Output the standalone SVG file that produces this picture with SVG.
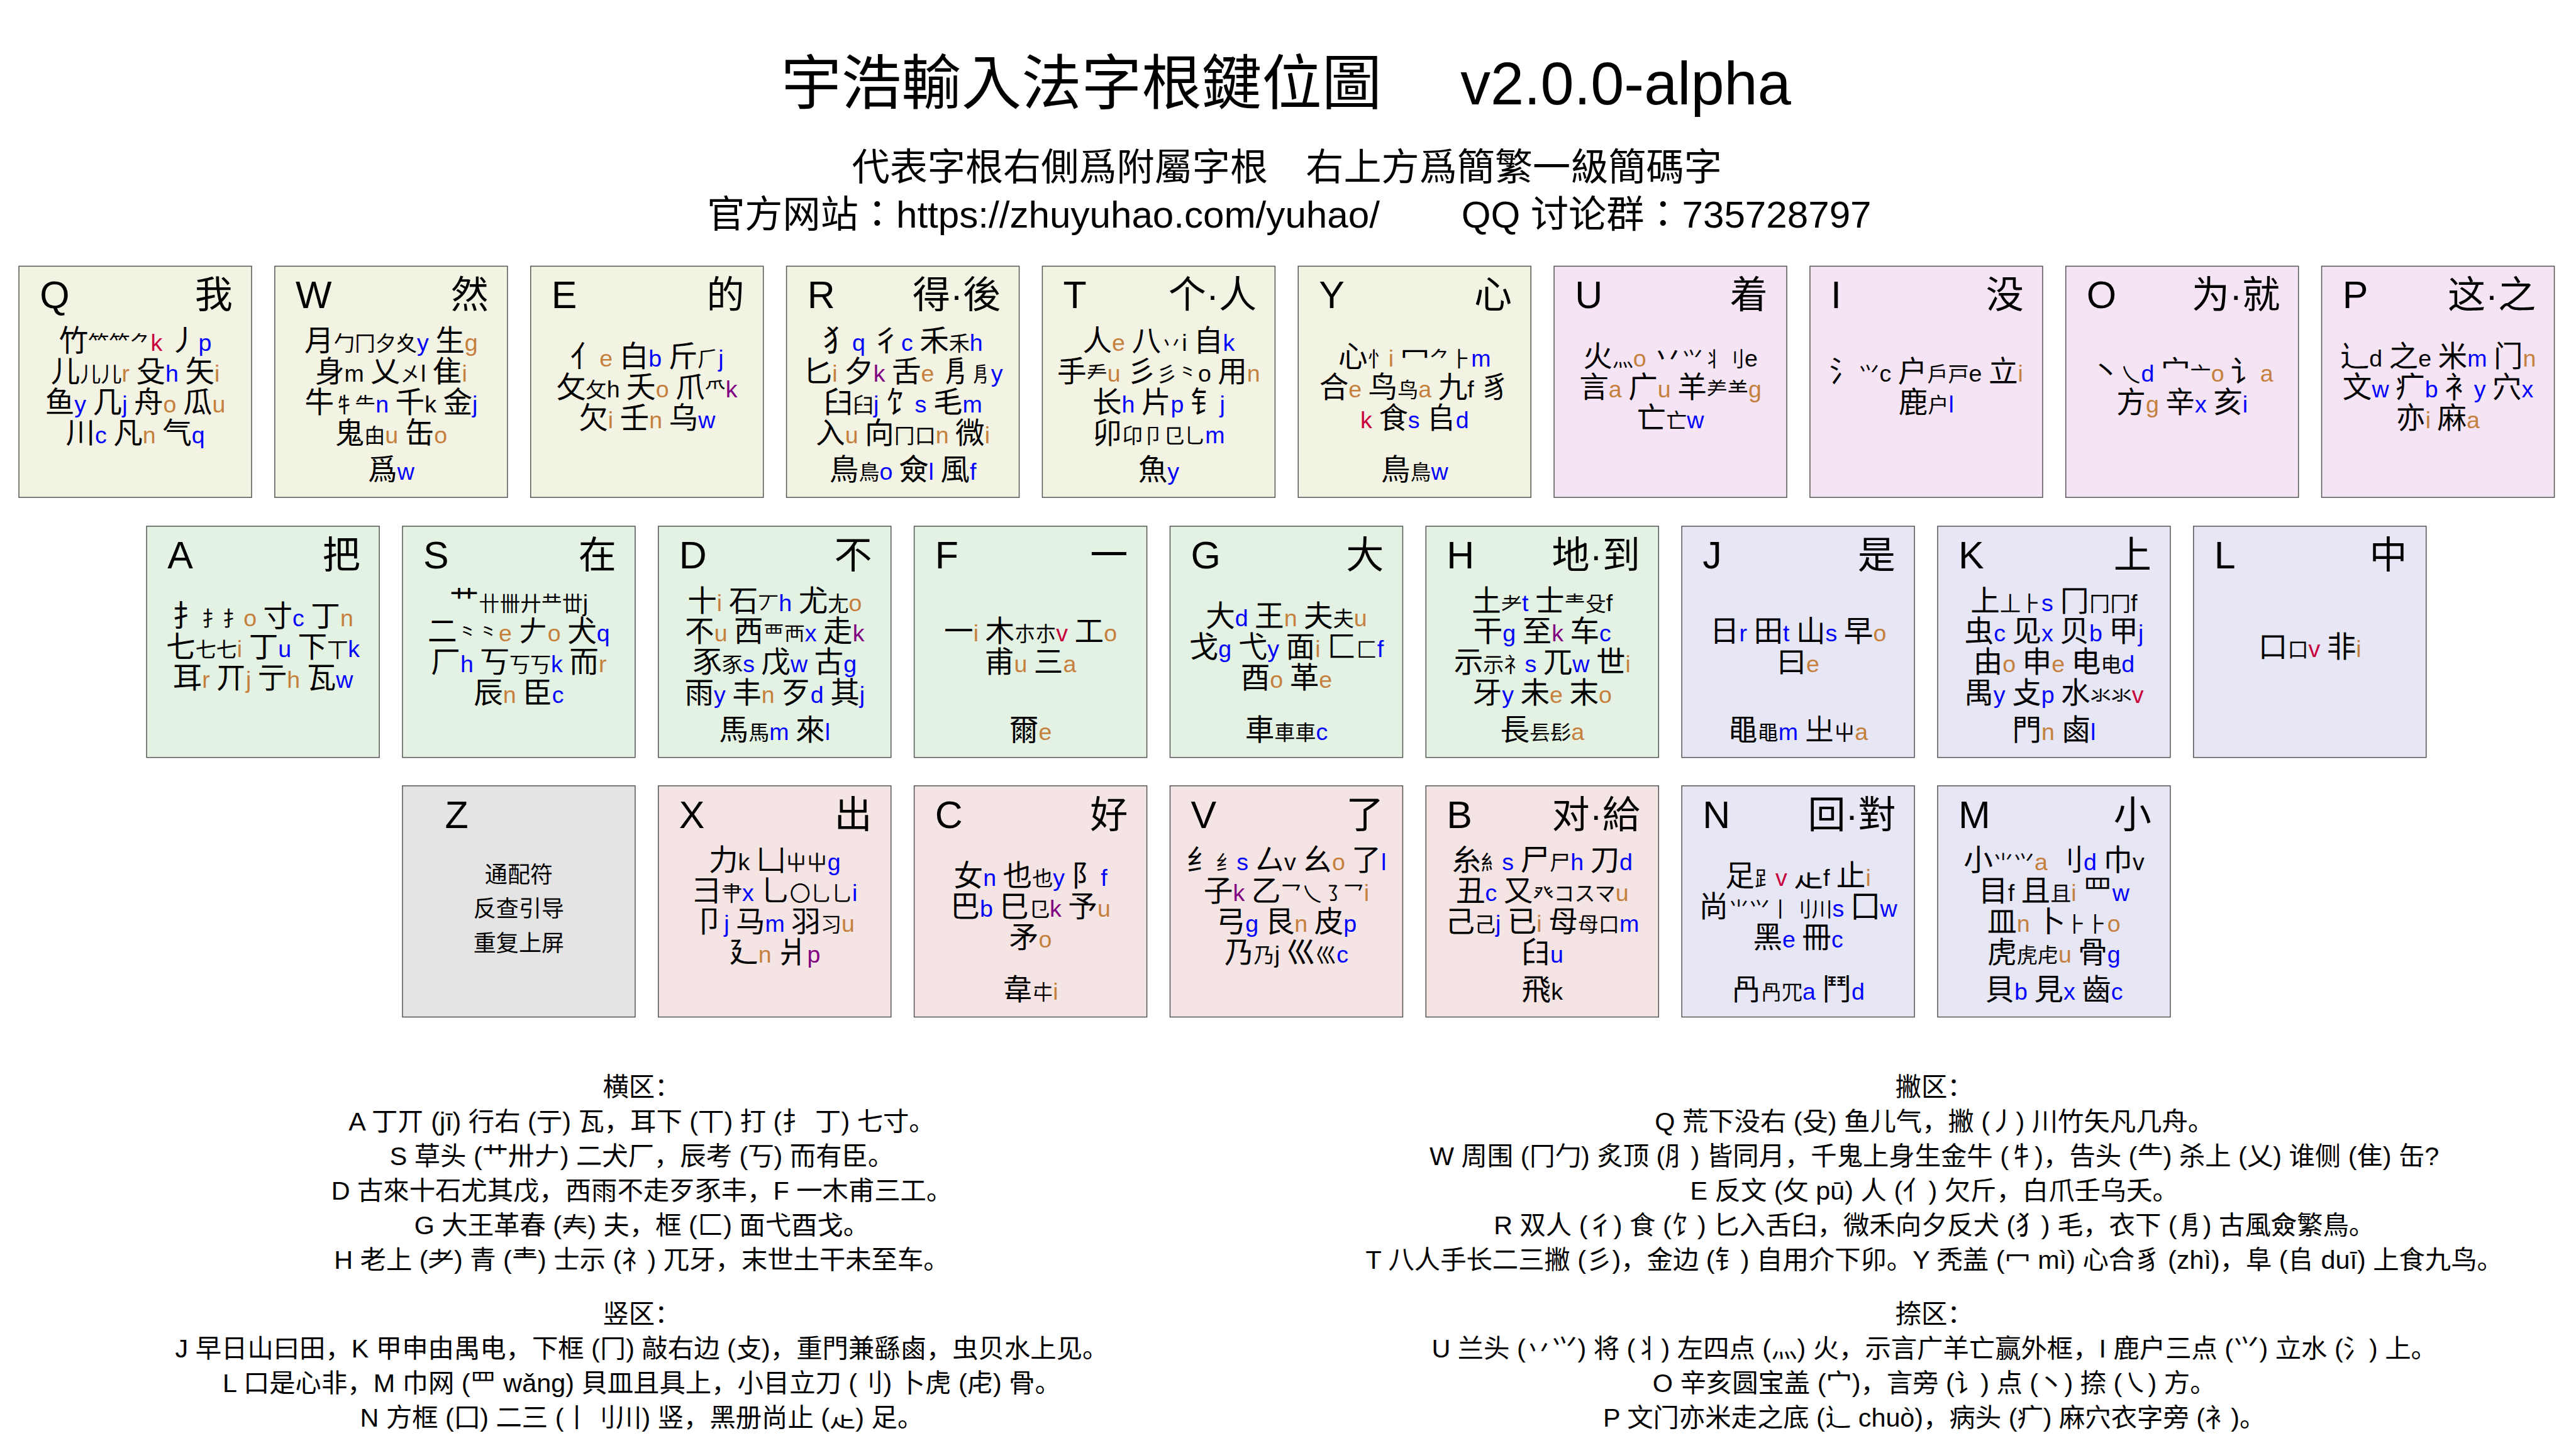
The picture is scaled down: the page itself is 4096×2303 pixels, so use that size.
<svg xmlns="http://www.w3.org/2000/svg" width="4096" height="2303" viewBox="0 0 4096 2303" xml:space="preserve">
<style>
.kb{stroke:#555;stroke-width:2}
.y1{fill:#f3f3e4}.p1{fill:#f4e4f4}.g1{fill:#e4f2e4}.v1{fill:#e6e6f4}.z1{fill:#e4e4e4}.r1{fill:#f4e4e4}
.hl{font-family:"Liberation Sans",Arial,sans-serif;font-size:81px;fill:#000}
.hr{font-family:"Liberation Sans","Noto Sans CJK SC","Noto Sans CJK TC","Noto Sans CJK JP",sans-serif;font-size:80px;text-anchor:end;fill:#000}
.ln{font-family:"Noto Sans CJK SC","Noto Sans CJK TC","Noto Sans CJK JP","Noto Sans CJK KR",sans-serif;font-size:62px;text-anchor:middle;fill:#000}
.s{font-size:44px}
.c{font-family:"Liberation Sans",Arial,sans-serif;font-size:50px}
.B{fill:#0000ff}.O{fill:#c4803c}.R{fill:#c8003c}.P{fill:#800080}
.zt{font-size:48px}
.tt{font-family:"Liberation Sans","Noto Sans CJK TC","Noto Sans CJK SC",sans-serif;font-size:127px;fill:#000}
.st{font-family:"Liberation Sans","Noto Sans CJK TC","Noto Sans CJK SC",sans-serif;font-size:80px;fill:#000}
.ft{font-family:"Liberation Sans","Noto Sans CJK SC","Noto Sans CJK TC","Noto Sans CJK JP",sans-serif;font-size:55px;text-anchor:middle;fill:#000}
</style>
<rect width="4096" height="2303" fill="#fff"/>
<g transform="scale(0.752)">
<g id="title">
<text class="tt" x="1652" y="221">宇浩輸入法字根鍵位圖<tspan x="3088">v2.0.0-alpha</tspan></text>
<text class="st" x="2721" y="381" text-anchor="middle">代表字根右側爲附屬字根　右上方爲簡繁一級簡碼字</text>
<text class="st" x="1495" y="481">官方网站：https://zhuyuhao.com/yuhao/<tspan x="3090">QQ 讨论群：735728797</tspan></text>
</g>
<g id="keys">
<g id="key-Q" transform="translate(40,563)"><rect class="kb y1" width="492" height="489"/><text class="hl" x="44" y="89">Q</text><text class="hr" x="452" y="89">我</text>
<text class="ln" x="246" y="179">竹<tspan class="s">⺮⺮⺈</tspan><tspan class="c R">k </tspan>丿<tspan class="c B">p</tspan></text>
<text class="ln" x="246" y="244">儿<tspan class="s">儿儿</tspan><tspan class="c O">r </tspan>殳<tspan class="c B">h </tspan>矢<tspan class="c O">i</tspan></text>
<text class="ln" x="246" y="309">鱼<tspan class="c B">y </tspan>几<tspan class="c B">j </tspan>舟<tspan class="c O">o </tspan>瓜<tspan class="c O">u</tspan></text>
<text class="ln" x="246" y="374">川<tspan class="c B">c </tspan>凡<tspan class="c O">n </tspan>气<tspan class="c B">q</tspan></text></g>
<g id="key-W" transform="translate(581,563)"><rect class="kb y1" width="492" height="489"/><text class="hl" x="44" y="89">W</text><text class="hr" x="452" y="89">然</text>
<text class="ln" x="246" y="179">月<tspan class="s">勹冂夕夊</tspan><tspan class="c B">y </tspan>生<tspan class="c O">g</tspan></text>
<text class="ln" x="246" y="244">身<tspan class="c">m </tspan>乂<tspan class="s">㐅</tspan><tspan class="c">l </tspan>隹<tspan class="c O">i</tspan></text>
<text class="ln" x="246" y="309">牛<tspan class="s">牜⺧</tspan><tspan class="c B">n </tspan>千<tspan class="c">k </tspan>金<tspan class="c B">j</tspan></text>
<text class="ln" x="246" y="374">鬼<tspan class="s">甶</tspan><tspan class="c O">u </tspan>缶<tspan class="c O">o</tspan></text>
<text class="ln" x="246" y="452">爲<tspan class="c B">w</tspan></text></g>
<g id="key-E" transform="translate(1122,563)"><rect class="kb y1" width="492" height="489"/><text class="hl" x="44" y="89">E</text><text class="hr" x="452" y="89">的</text>
<text class="ln" x="246" y="212">亻<tspan class="c O">e </tspan>白<tspan class="c B">b </tspan>斤<tspan class="s">⺁</tspan><tspan class="c B">j</tspan></text>
<text class="ln" x="246" y="277">攵<tspan class="s">⺙</tspan><tspan class="c">h </tspan>夭<tspan class="c O">o </tspan>爪<tspan class="s">⺥</tspan><tspan class="c P">k</tspan></text>
<text class="ln" x="246" y="342">欠<tspan class="c O">i </tspan>壬<tspan class="c O">n </tspan>乌<tspan class="c B">w</tspan></text></g>
<g id="key-R" transform="translate(1663,563)"><rect class="kb y1" width="492" height="489"/><text class="hl" x="44" y="89">R</text><text class="hr" x="453" y="89">得·後</text>
<text class="ln" x="246" y="179">犭<tspan class="c B">q </tspan>彳<tspan class="c B">c </tspan>禾<tspan class="s">禾</tspan><tspan class="c B">h</tspan></text>
<text class="ln" x="246" y="244">匕<tspan class="c O">i </tspan>夕<tspan class="c P">k </tspan>舌<tspan class="c O">e </tspan>㐆<tspan class="s">㐆</tspan><tspan class="c B">y</tspan></text>
<text class="ln" x="246" y="309">臼<tspan class="s">臼</tspan><tspan class="c B">j </tspan>饣<tspan class="c B">s </tspan>毛<tspan class="c B">m</tspan></text>
<text class="ln" x="246" y="374">入<tspan class="c O">u </tspan>向<tspan class="s">冂口</tspan><tspan class="c O">n </tspan>微<tspan class="c O">i</tspan></text>
<text class="ln" x="246" y="452">鳥<tspan class="s">鳥</tspan><tspan class="c B">o </tspan>僉<tspan class="c B">l </tspan>風<tspan class="c B">f</tspan></text></g>
<g id="key-T" transform="translate(2204,563)"><rect class="kb y1" width="492" height="489"/><text class="hl" x="44" y="89">T</text><text class="hr" x="453" y="89">个·人</text>
<text class="ln" x="246" y="179">人<tspan class="c O">e </tspan>八<tspan class="s">丷</tspan><tspan class="c">i </tspan>自<tspan class="c B">k</tspan></text>
<text class="ln" x="246" y="244">手<tspan class="s">龵</tspan><tspan class="c O">u </tspan>彡<tspan class="s">彡⺀</tspan><tspan class="c">o </tspan>用<tspan class="c O">n</tspan></text>
<text class="ln" x="246" y="309">长<tspan class="c B">h </tspan>片<tspan class="c B">p </tspan>钅<tspan class="c B">j</tspan></text>
<text class="ln" x="246" y="374">卯<tspan class="s">卬卩⺋乚</tspan><tspan class="c B">m</tspan></text>
<text class="ln" x="246" y="452">魚<tspan class="c B">y</tspan></text></g>
<g id="key-Y" transform="translate(2745,563)"><rect class="kb y1" width="492" height="489"/><text class="hl" x="44" y="89">Y</text><text class="hr" x="452" y="89">心</text>
<text class="ln" x="246" y="212">心<tspan class="s">⺖</tspan><tspan class="c O">i </tspan>冖<tspan class="s">⺈⺊</tspan><tspan class="c B">m</tspan></text>
<text class="ln" x="246" y="277">合<tspan class="c O">e </tspan>鸟<tspan class="s">鸟</tspan><tspan class="c O">a </tspan>九<tspan class="c">f </tspan>豸</text>
<text class="ln" x="246" y="342"><tspan class="c R">k </tspan>食<tspan class="c B">s </tspan>𠂤<tspan class="c B">d</tspan></text>
<text class="ln" x="246" y="452">鳥<tspan class="s">鳥</tspan><tspan class="c B">w</tspan></text></g>
<g id="key-U" transform="translate(3286,563)"><rect class="kb p1" width="492" height="489"/><text class="hl" x="44" y="89">U</text><text class="hr" x="452" y="89">着</text>
<text class="ln" x="246" y="212">火<tspan class="s">灬</tspan><tspan class="c O">o </tspan>丷<tspan class="s">⺍丬刂</tspan><tspan class="c">e</tspan></text>
<text class="ln" x="246" y="277">言<tspan class="c O">a </tspan>广<tspan class="c O">u </tspan>羊<tspan class="s">⺶⺷</tspan><tspan class="c O">g</tspan></text>
<text class="ln" x="246" y="342">亡<tspan class="s">亡</tspan><tspan class="c B">w</tspan></text></g>
<g id="key-I" transform="translate(3827,563)"><rect class="kb p1" width="492" height="489"/><text class="hl" x="44" y="89">I</text><text class="hr" x="452" y="89">没</text>
<text class="ln" x="246" y="244">氵<tspan class="s">⺍</tspan><tspan class="c">c </tspan>户<tspan class="s">戶戸</tspan><tspan class="c">e </tspan>立<tspan class="c O">i</tspan></text>
<text class="ln" x="246" y="309">鹿<tspan class="s">户</tspan><tspan class="c B">l</tspan></text></g>
<g id="key-O" transform="translate(4368,563)"><rect class="kb p1" width="492" height="489"/><text class="hl" x="44" y="89">O</text><text class="hr" x="453" y="89">为·就</text>
<text class="ln" x="246" y="244">丶<tspan class="s">乀</tspan><tspan class="c B">d </tspan>宀<tspan class="s">亠</tspan><tspan class="c O">o </tspan>讠<tspan class="c O">a</tspan></text>
<text class="ln" x="246" y="309">方<tspan class="c O">g </tspan>辛<tspan class="c B">x </tspan>亥<tspan class="c B">i</tspan></text></g>
<g id="key-P" transform="translate(4909,563)"><rect class="kb p1" width="492" height="489"/><text class="hl" x="44" y="89">P</text><text class="hr" x="453" y="89">这·之</text>
<text class="ln" x="246" y="212">辶<tspan class="c">d </tspan>之<tspan class="c">e </tspan>米<tspan class="c B">m </tspan>门<tspan class="c O">n</tspan></text>
<text class="ln" x="246" y="277">文<tspan class="c B">w </tspan>疒<tspan class="c B">b </tspan>衤<tspan class="c B">y </tspan>穴<tspan class="c B">x</tspan></text>
<text class="ln" x="246" y="342">亦<tspan class="c O">i </tspan>麻<tspan class="c O">a</tspan></text></g>
<g id="key-A" transform="translate(310,1113)"><rect class="kb g1" width="492" height="489"/><text class="hl" x="44" y="89">A</text><text class="hr" x="452" y="89">把</text>
<text class="ln" x="246" y="212">扌<tspan class="s">扌扌</tspan><tspan class="c O">o </tspan>寸<tspan class="c B">c </tspan>丁<tspan class="c O">n</tspan></text>
<text class="ln" x="246" y="277">七<tspan class="s">七七</tspan><tspan class="c O">i </tspan>丁<tspan class="c B">u </tspan>下<tspan class="s">丅</tspan><tspan class="c B">k</tspan></text>
<text class="ln" x="246" y="342">耳<tspan class="c O">r </tspan>丌<tspan class="c O">j </tspan>亍<tspan class="c O">h </tspan>瓦<tspan class="c B">w</tspan></text></g>
<g id="key-S" transform="translate(851,1113)"><rect class="kb g1" width="492" height="489"/><text class="hl" x="44" y="89">S</text><text class="hr" x="452" y="89">在</text>
<text class="ln" x="246" y="179">艹<tspan class="s">卄卌廾龷丗</tspan><tspan class="c">j</tspan></text>
<text class="ln" x="246" y="244">二<tspan class="s">⺀⺀</tspan><tspan class="c O">e </tspan>𠂇<tspan class="c O">o </tspan>犬<tspan class="c B">q</tspan></text>
<text class="ln" x="246" y="309">厂<tspan class="c B">h </tspan>丂<tspan class="s">丂丂</tspan><tspan class="c B">k </tspan>而<tspan class="c O">r</tspan></text>
<text class="ln" x="246" y="374">辰<tspan class="c O">n </tspan>臣<tspan class="c B">c</tspan></text></g>
<g id="key-D" transform="translate(1392,1113)"><rect class="kb g1" width="492" height="489"/><text class="hl" x="44" y="89">D</text><text class="hr" x="452" y="89">不</text>
<text class="ln" x="246" y="179">十<tspan class="c O">i </tspan>石<tspan class="s">丆</tspan><tspan class="c B">h </tspan>尤<tspan class="s">尢</tspan><tspan class="c O">o</tspan></text>
<text class="ln" x="246" y="244">不<tspan class="c O">u </tspan>西<tspan class="s">覀襾</tspan><tspan class="c B">x </tspan>走<tspan class="c P">k</tspan></text>
<text class="ln" x="246" y="309">豕<tspan class="s">豕</tspan><tspan class="c B">s </tspan>戊<tspan class="c B">w </tspan>古<tspan class="c B">g</tspan></text>
<text class="ln" x="246" y="374">雨<tspan class="c B">y </tspan>丰<tspan class="c O">n </tspan>歹<tspan class="c B">d </tspan>其<tspan class="c B">j</tspan></text>
<text class="ln" x="246" y="452">馬<tspan class="s">馬</tspan><tspan class="c B">m </tspan>來<tspan class="c B">l</tspan></text></g>
<g id="key-F" transform="translate(1933,1113)"><rect class="kb g1" width="492" height="489"/><text class="hl" x="44" y="89">F</text><text class="hr" x="452" y="89">一</text>
<text class="ln" x="246" y="244">一<tspan class="c O">i </tspan>木<tspan class="s">朩朩</tspan><tspan class="c R">v </tspan>工<tspan class="c O">o</tspan></text>
<text class="ln" x="246" y="309">甫<tspan class="c O">u </tspan>三<tspan class="c O">a</tspan></text>
<text class="ln" x="246" y="452">爾<tspan class="c O">e</tspan></text></g>
<g id="key-G" transform="translate(2474,1113)"><rect class="kb g1" width="492" height="489"/><text class="hl" x="44" y="89">G</text><text class="hr" x="452" y="89">大</text>
<text class="ln" x="246" y="212">大<tspan class="c B">d </tspan>王<tspan class="c O">n </tspan>夫<tspan class="s">夫</tspan><tspan class="c O">u</tspan></text>
<text class="ln" x="246" y="277">戈<tspan class="c B">g </tspan>弋<tspan class="c B">y </tspan>面<tspan class="c O">i </tspan>匚<tspan class="s">匚</tspan><tspan class="c B">f</tspan></text>
<text class="ln" x="246" y="342">酉<tspan class="c O">o </tspan>革<tspan class="c O">e</tspan></text>
<text class="ln" x="246" y="452">車<tspan class="s">車車</tspan><tspan class="c B">c</tspan></text></g>
<g id="key-H" transform="translate(3015,1113)"><rect class="kb g1" width="492" height="489"/><text class="hl" x="44" y="89">H</text><text class="hr" x="453" y="89">地·到</text>
<text class="ln" x="246" y="179">土<tspan class="s">耂</tspan><tspan class="c B">t </tspan>士<tspan class="s">龶殳</tspan><tspan class="c">f</tspan></text>
<text class="ln" x="246" y="244">干<tspan class="c B">g </tspan>至<tspan class="c P">k </tspan>车<tspan class="c B">c</tspan></text>
<text class="ln" x="246" y="309">示<tspan class="s">示礻</tspan><tspan class="c B">s </tspan>兀<tspan class="c B">w </tspan>世<tspan class="c O">i</tspan></text>
<text class="ln" x="246" y="374">牙<tspan class="c B">y </tspan>未<tspan class="c O">e </tspan>末<tspan class="c O">o</tspan></text>
<text class="ln" x="246" y="452">長<tspan class="s">镸髟</tspan><tspan class="c O">a</tspan></text></g>
<g id="key-J" transform="translate(3556,1113)"><rect class="kb v1" width="492" height="489"/><text class="hl" x="44" y="89">J</text><text class="hr" x="452" y="89">是</text>
<text class="ln" x="246" y="244">日<tspan class="c B">r </tspan>田<tspan class="c B">t </tspan>山<tspan class="c B">s </tspan>早<tspan class="c O">o</tspan></text>
<text class="ln" x="246" y="309">曰<tspan class="c O">e</tspan></text>
<text class="ln" x="246" y="452">黽<tspan class="s">黽</tspan><tspan class="c B">m </tspan>㞢<tspan class="s">屮</tspan><tspan class="c O">a</tspan></text></g>
<g id="key-K" transform="translate(4097,1113)"><rect class="kb v1" width="492" height="489"/><text class="hl" x="44" y="89">K</text><text class="hr" x="452" y="89">上</text>
<text class="ln" x="246" y="179">上<tspan class="s">丄⺊</tspan><tspan class="c B">s </tspan>冂<tspan class="s">冂冂</tspan><tspan class="c">f</tspan></text>
<text class="ln" x="246" y="244">虫<tspan class="c B">c </tspan>见<tspan class="c B">x </tspan>贝<tspan class="c B">b </tspan>甲<tspan class="c B">j</tspan></text>
<text class="ln" x="246" y="309">由<tspan class="c O">o </tspan>申<tspan class="c O">e </tspan>电<tspan class="s">电</tspan><tspan class="c B">d</tspan></text>
<text class="ln" x="246" y="374">禺<tspan class="c B">y </tspan>攴<tspan class="c B">p </tspan>水<tspan class="s">氺氺</tspan><tspan class="c R">v</tspan></text>
<text class="ln" x="246" y="452">門<tspan class="c O">n </tspan>鹵<tspan class="c B">l</tspan></text></g>
<g id="key-L" transform="translate(4638,1113)"><rect class="kb v1" width="492" height="489"/><text class="hl" x="44" y="89">L</text><text class="hr" x="452" y="89">中</text>
<text class="ln" x="246" y="276">口<tspan class="s">口</tspan><tspan class="c R">v </tspan>非<tspan class="c O">i</tspan></text></g>
<g id="key-Z" transform="translate(851,1662)"><rect class="kb z1" width="492" height="489"/><text class="hl" x="90" y="89">Z</text>
<text class="ln zt" x="246" y="205">通配符</text>
<text class="ln zt" x="246" y="277">反查引导</text>
<text class="ln zt" x="246" y="350">重复上屏</text></g>
<g id="key-X" transform="translate(1392,1662)"><rect class="kb r1" width="492" height="489"/><text class="hl" x="44" y="89">X</text><text class="hr" x="452" y="89">出</text>
<text class="ln" x="246" y="179">力<tspan class="c">k </tspan>凵<tspan class="s">屮屮</tspan><tspan class="c B">g</tspan></text>
<text class="ln" x="246" y="244">彐<tspan class="s">⺺</tspan><tspan class="c B">x </tspan>乚<tspan class="s">〇乚乚</tspan><tspan class="c B">i</tspan></text>
<text class="ln" x="246" y="309">卩<tspan class="c B">j </tspan>马<tspan class="c B">m </tspan>羽<tspan class="s">习</tspan><tspan class="c O">u</tspan></text>
<text class="ln" x="246" y="374">廴<tspan class="c O">n </tspan>爿<tspan class="c P">p</tspan></text></g>
<g id="key-C" transform="translate(1933,1662)"><rect class="kb r1" width="492" height="489"/><text class="hl" x="44" y="89">C</text><text class="hr" x="452" y="89">好</text>
<text class="ln" x="246" y="212">女<tspan class="c B">n </tspan>也<tspan class="s">也</tspan><tspan class="c B">y </tspan>阝<tspan class="c B">f</tspan></text>
<text class="ln" x="246" y="277">巴<tspan class="c B">b </tspan>巳<tspan class="s">⺋</tspan><tspan class="c P">k </tspan>予<tspan class="c O">u</tspan></text>
<text class="ln" x="246" y="342">矛<tspan class="c O">o</tspan></text>
<text class="ln" x="246" y="452">韋<tspan class="s">㐄</tspan><tspan class="c O">i</tspan></text></g>
<g id="key-V" transform="translate(2474,1662)"><rect class="kb r1" width="492" height="489"/><text class="hl" x="44" y="89">V</text><text class="hr" x="452" y="89">了</text>
<text class="ln" x="246" y="179">纟<tspan class="s">纟</tspan><tspan class="c B">s </tspan>厶<tspan class="c">v </tspan>幺<tspan class="c O">o </tspan>了<tspan class="c B">l</tspan></text>
<text class="ln" x="246" y="244">子<tspan class="c P">k </tspan>乙<tspan class="s">乛乀㇌⺂</tspan><tspan class="c O">i</tspan></text>
<text class="ln" x="246" y="309">弓<tspan class="c B">g </tspan>艮<tspan class="c O">n </tspan>皮<tspan class="c B">p</tspan></text>
<text class="ln" x="246" y="374">乃<tspan class="s">乃</tspan><tspan class="c">j </tspan>巛<tspan class="s">巛</tspan><tspan class="c B">c</tspan></text></g>
<g id="key-B" transform="translate(3015,1662)"><rect class="kb r1" width="492" height="489"/><text class="hl" x="44" y="89">B</text><text class="hr" x="453" y="89">对·給</text>
<text class="ln" x="246" y="179">糸<tspan class="s">糹</tspan><tspan class="c B">s </tspan>尸<tspan class="s">尸</tspan><tspan class="c B">h </tspan>刀<tspan class="c B">d</tspan></text>
<text class="ln" x="246" y="244">丑<tspan class="c B">c </tspan>又<tspan class="s">癶コスマ</tspan><tspan class="c O">u</tspan></text>
<text class="ln" x="246" y="309">己<tspan class="s">己</tspan><tspan class="c B">j </tspan>已<tspan class="c O">i </tspan>母<tspan class="s">⺟口</tspan><tspan class="c B">m</tspan></text>
<text class="ln" x="246" y="374">𦥑<tspan class="c B">u</tspan></text>
<text class="ln" x="246" y="452">飛<tspan class="c">k</tspan></text></g>
<g id="key-N" transform="translate(3556,1662)"><rect class="kb v1" width="492" height="489"/><text class="hl" x="44" y="89">N</text><text class="hr" x="453" y="89">回·對</text>
<text class="ln" x="246" y="212">足<tspan class="s">⻊</tspan><tspan class="c R">v </tspan>龰<tspan class="c">f </tspan>止<tspan class="c O">i</tspan></text>
<text class="ln" x="246" y="277">尚<tspan class="s">⺌⺍丨刂川</tspan><tspan class="c B">s </tspan>囗<tspan class="c B">w</tspan></text>
<text class="ln" x="246" y="342">黑<tspan class="c B">e </tspan>冊<tspan class="c B">c</tspan></text>
<text class="ln" x="246" y="452">冎<tspan class="s">冎⺴</tspan><tspan class="c B">a </tspan>鬥<tspan class="c B">d</tspan></text></g>
<g id="key-M" transform="translate(4097,1662)"><rect class="kb v1" width="492" height="489"/><text class="hl" x="44" y="89">M</text><text class="hr" x="452" y="89">小</text>
<text class="ln" x="246" y="179">小<tspan class="s">⺌⺍</tspan><tspan class="c O">a </tspan>刂<tspan class="c B">d </tspan>巾<tspan class="c">v</tspan></text>
<text class="ln" x="246" y="244">目<tspan class="c">f </tspan>且<tspan class="s">且</tspan><tspan class="c O">i </tspan>罒<tspan class="c B">w</tspan></text>
<text class="ln" x="246" y="309">皿<tspan class="c O">n </tspan>卜<tspan class="s">⺊⺊</tspan><tspan class="c O">o</tspan></text>
<text class="ln" x="246" y="374">虎<tspan class="s">⻁虍</tspan><tspan class="c O">u </tspan>骨<tspan class="c B">g</tspan></text>
<text class="ln" x="246" y="452">貝<tspan class="c B">b </tspan>見<tspan class="c B">x </tspan>齒<tspan class="c B">c</tspan></text></g>
</g>
<g id="connectors"></g>
<g id="notes">
<text class="ft" x="1357" y="2318">横区：</text>
<text class="ft" x="1357" y="2391">A 丁丌 (jī) 行右 (亍) 瓦，耳下 (丅) 打 (扌 丁) 七寸。</text>
<text class="ft" x="1357" y="2464">S 草头 (艹卅𠂇) 二犬厂，辰考 (丂) 而有臣。</text>
<text class="ft" x="1357" y="2537">D 古來十石尤其戊，西雨不走歹豕丰，F 一木甫三工。</text>
<text class="ft" x="1357" y="2610">G 大王革春 (𡗗) 夫，框 (匚) 面弋酉戈。</text>
<text class="ft" x="1357" y="2683">H 老上 (耂) 青 (龶) 士示 (礻) 兀牙，末世土干未至车。</text>
<text class="ft" x="1357" y="2798">竖区：</text>
<text class="ft" x="1357" y="2871">J 早日山曰田，K 甲申由禺电，下框 (冂) 敲右边 (攴)，重門兼繇鹵，虫贝水上见。</text>
<text class="ft" x="1357" y="2944">L 口是心非，M 巾网 (罒 wǎng) 貝皿且具上，小目立刀 (刂) 卜虎 (虍) 骨。</text>
<text class="ft" x="1357" y="3017">N 方框 (囗) 二三 (丨刂川) 竖，黑册尚止 (龰) 足。</text>
<text class="ft" x="4090" y="2318">撇区：</text>
<text class="ft" x="4090" y="2391">Q 荒下没右 (殳) 鱼儿气，撇 (丿) 川竹矢凡几舟。</text>
<text class="ft" x="4090" y="2464">W 周围 (冂勹) 炙顶 (⺼) 皆同月，千鬼上身生金牛 (牜)，告头 (⺧) 杀上 (乂) 谁侧 (隹) 缶?</text>
<text class="ft" x="4090" y="2537">E 反文 (攵 pū) 人 (亻) 欠斤，白爪壬乌夭。</text>
<text class="ft" x="4090" y="2610">R 双人 (彳) 食 (饣) 匕入舌臼，微禾向夕反犬 (犭) 毛，衣下 (㐆) 古風僉繁鳥。</text>
<text class="ft" x="4090" y="2683">T 八人手长二三撇 (彡)，金边 (钅) 自用介下卯。Y 秃盖 (冖 mì) 心合豸 (zhì)，阜 (𠂤 duī) 上食九鸟。</text>
<text class="ft" x="4090" y="2798">捺区：</text>
<text class="ft" x="4090" y="2871">U 兰头 (丷⺍) 将 (丬) 左四点 (灬) 火，示言广羊亡赢外框，I 鹿户三点 (⺍) 立水 (氵) 上。</text>
<text class="ft" x="4090" y="2944">O 辛亥圆宝盖 (宀)，言旁 (讠) 点 (丶) 捺 (㇏) 方。</text>
<text class="ft" x="4090" y="3017">P 文门亦米走之底 (辶 chuò)，病头 (疒) 麻穴衣字旁 (衤)。</text>
</g>
</g>
</svg>
